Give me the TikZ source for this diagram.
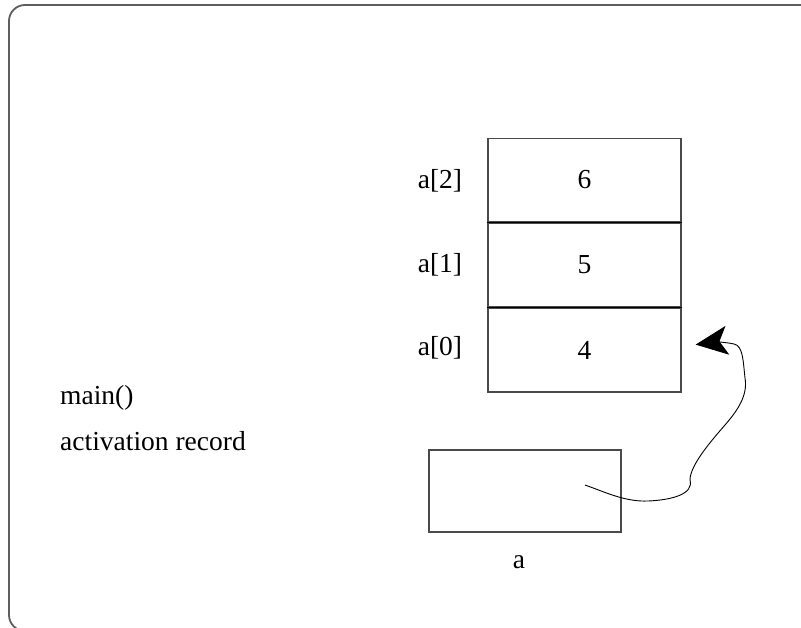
\documentclass[tikz,border=0pt]{standalone}
\usepackage{fontspec}
\setmainfont{Liberation Serif}
\usetikzlibrary{arrows.meta}
\definecolor{framegray}{HTML}{5E5E5E}
\definecolor{boxgray}{HTML}{4A4A4A}
\begin{document}
\begin{tikzpicture}[x=1pt,y=-1pt,
  lbl/.style={inner sep=0pt,font=\fontsize{27.5}{33}\selectfont},
  cell/.style={draw=boxgray,line width=1.3pt,minimum width=193pt,minimum height=83.7pt,inner sep=0pt,
    font=\fontsize{27.5}{33}\selectfont},
  ptrbox/.style={draw=boxgray,line width=1.3pt,minimum width=192pt,minimum height=82pt,inner sep=0pt},
  link/.style={line width=0.9pt,-{Stealth[length=32pt,width=29pt,inset=8pt]}}]
\useasboundingbox (0,0) rectangle (801,627);
\begin{scope}
  \clip (0,0) rectangle (801,627);
  % outer frame, running off the right and bottom edges
  \draw[framegray,line width=1.8pt,rounded corners=16pt] (9,5) rectangle (840,631);
\end{scope}

% array cells a[2], a[1], a[0]
\node[cell] (c2) at (584.5,180) {6};
\node[cell,anchor=north] (c1) at (c2.south) {5};
\node[cell,anchor=north] (c0) at (c1.south) {4};
\draw[black,line width=1.3pt] (c2.south west) -- (c2.south east);
\draw[black,line width=1.3pt] (c1.south west) -- (c1.south east);

\node[lbl] (l2) at (440,181) {a[2]};
\node[lbl] (l1) at (440,265) {a[1]};
\node[lbl] (l0) at (440,348) {a[0]};

% activation record text
\node[lbl,anchor=west] (m) at (60,398) {main()};
\node[lbl,anchor=west] (ar) at (60,441) {activation record};

% pointer variable a
\node[ptrbox] (ptr) at (525,491) {};
\node[lbl] (pa) at (519,562) {a};

\coordinate (src) at ([xshift=60pt,yshift=6pt]ptr.center);
\coordinate (dst) at ([xshift=14pt,yshift=5.4pt]c0.east);
\draw[link] (src) .. controls (605,492) and (625,502) .. (648,501)
  .. controls (672,500) and (694,494) .. (690,480)
  .. controls (690,465) and (712,440) .. (725,425)
  .. controls (738,410) and (748,395) .. (745,378)
  .. controls (743,360) and (743,346) .. (734,344)
  .. controls (725,342) and (715,342) .. (dst);
\end{tikzpicture}
\end{document}
